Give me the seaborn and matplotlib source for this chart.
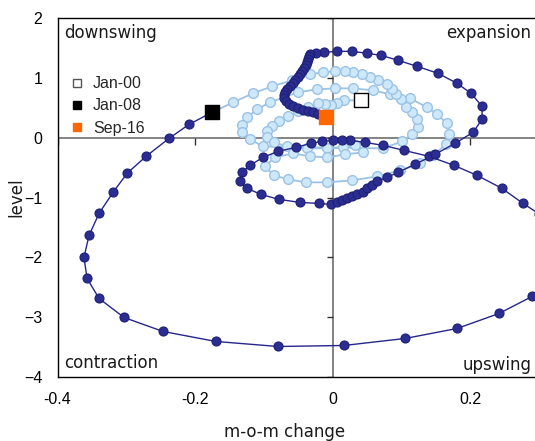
import matplotlib
matplotlib.use('Agg')
import matplotlib.pyplot as plt
from matplotlib.lines import Line2D
import pandas as pd
import seaborn as sns

# Jan-00 .. Jan-08 (light blue path)
light_x = [0.0415, 0.0167, 0.0065, -0.0022, -0.0109, -0.0211, -0.0356, -0.0502, -0.0647, -0.0778,
           -0.088, -0.0953, -0.0953, -0.0851, -0.0662, -0.0371, -0.008, 0.0153, 0.0327, 0.0444,
           0.0182, -0.008, -0.0327, -0.0575, -0.0836, -0.0982, -0.0851, -0.0647, -0.0385, -0.008,
           0.0284, 0.0647, 0.0982, 0.1273, 0.1462, 0.1651, 0.1695, 0.1665, 0.152, 0.1375,
           0.1127, 0.0836, 0.0589, 0.0298, 0.0036, -0.0225, -0.0502, -0.0909, -0.1098, -0.1244,
           -0.1316, -0.1316, -0.12, -0.1011, 0.0735, 0.1011, 0.1156, 0.1244, 0.1229, 0.1156,
           0.1069, 0.0996, 0.0924, 0.0865, 0.0793, 0.0662, 0.0545, 0.0429, 0.0298, 0.0182,
           0.0036, -0.0138, -0.0327, -0.0589, -0.088, -0.1156, -0.1447, -0.1753]
light_y = [0.624, 0.624, 0.574, 0.540, 0.557, 0.574, 0.507, 0.440, 0.356, 0.273,
           0.189, 0.105, 0.005, -0.079, -0.146, -0.179, -0.179, -0.162, -0.129, -0.246,
           -0.279, -0.329, -0.313, -0.263, -0.329, -0.480, -0.630, -0.697, -0.747, -0.747,
           -0.714, -0.647, -0.547, -0.430, -0.296, -0.112, 0.055, 0.239, 0.390, 0.507,
           0.657, 0.724, 0.791, 0.824, 0.824, 0.808, 0.758, 0.590, 0.473, 0.339,
           0.206, 0.089, -0.028, -0.146, -0.179, -0.062, 0.055, 0.172, 0.306, 0.423,
           0.507, 0.640, 0.724, 0.808, 0.891, 0.958, 1.008, 1.059, 1.092, 1.109,
           1.109, 1.092, 1.059, 0.958, 0.858, 0.741, 0.590, 0.423]

# Jan-08 .. Sep-16 (dark blue path)
dark_x = [-0.1753, -0.2087, -0.2378, -0.2713, -0.2989, -0.3193, -0.3396, -0.3542, -0.3615, -0.357,
          -0.3396, -0.3033, -0.2465, -0.1695, -0.0793, 0.0167, 0.1055, 0.1811, 0.2422, 0.2902,
          0.312, 0.322, 0.318, 0.300, 0.2771, 0.2465, 0.2102, 0.1767, 0.1404, 0.104,
          0.0735, 0.0473, 0.0255, 0.0138, 0.0007, -0.0153, -0.0313, -0.0531, -0.0793, -0.1011,
          -0.12, -0.1316, -0.1345, -0.1244, -0.104, -0.0778, -0.0473, -0.0196, -0.0022, 0.0065,
          0.0138, 0.0211, 0.0284, 0.0356, 0.0444, 0.0502, 0.0575, 0.0647, 0.0793, 0.0953,
          0.12, 0.1491, 0.1782, 0.2044, 0.2175, 0.2175, 0.2015, 0.1811, 0.1535, 0.1229,
          0.0953, 0.0705, 0.0502, 0.0284, 0.0065, -0.0124, -0.024, -0.0327, -0.0342, -0.0356,
          -0.0371, -0.0385, -0.0415, -0.0444, -0.0473, -0.0502, -0.0545, -0.0575, -0.0618, -0.0662,
          -0.0691, -0.0705, -0.0705, -0.0676, -0.0633, -0.0575, -0.0502, -0.0429, -0.0356, -0.0284,
          -0.0211, -0.0153, -0.0095]
dark_y = [0.423, 0.222, -0.012, -0.313, -0.597, -0.915, -1.266, -1.634, -2.002, -2.353,
          -2.687, -3.005, -3.239, -3.406, -3.490, -3.473, -3.356, -3.189, -2.938, -2.654,
          -2.35, -1.95, -1.55, -1.27, -1.099, -0.848, -0.630, -0.463, -0.313, -0.212,
          -0.129, -0.079, -0.045, -0.045, -0.045, -0.062, -0.095, -0.162, -0.229, -0.329,
          -0.463, -0.580, -0.731, -0.848, -0.948, -1.032, -1.082, -1.099, -1.115, -1.082,
          -1.048, -1.015, -0.982, -0.948, -0.915, -0.848, -0.798, -0.731, -0.664, -0.580,
          -0.446, -0.279, -0.095, 0.089, 0.306, 0.523, 0.741, 0.908, 1.075, 1.192,
          1.293, 1.376, 1.410, 1.443, 1.443, 1.426, 1.410, 1.393, 1.360, 1.309,
          1.259, 1.209, 1.159, 1.109, 1.059, 1.008, 0.958, 0.908, 0.858, 0.808,
          0.758, 0.707, 0.657, 0.607, 0.557, 0.523, 0.490, 0.457, 0.440, 0.423,
          0.390, 0.373, 0.339]

end_labels = ['Jan-00', 'Jan-08', 'Sep-16']
end_face = ['white', 'black', '#FF6600']
end_edge = ['black', 'black', '#FF6600']
xticks = [-0.4, -0.2, 0, 0.2]
xticklabels = ['-0.4', '-0.2', '0', '0.2']
yticks = [2, 1, 0, -1, -2, -3, -4]

sns.set_theme(style='white')
plt.rcParams['font.family'] = ['Liberation Sans', 'DejaVu Sans']

fig = plt.figure(figsize=(5.35, 4.41), dpi=100)
ax = fig.add_axes([0.1075, 0.1451, 0.8925, 0.8141])

light = pd.DataFrame({'x': light_x, 'y': light_y})
dark = pd.DataFrame({'x': dark_x, 'y': dark_y})

# axes crossing at zero, with the tick marks sitting on them
ax.axhline(0, color='#7a7a7a', lw=1.3, zorder=1)
ax.axvline(0, color='#7a7a7a', lw=1.3, zorder=1)
ax.plot(xticks, [0] * len(xticks), ls='none', marker=3, ms=5, mew=1, color='#333333', zorder=1)
ax.plot([0] * len(yticks), yticks, ls='none', marker=0, ms=4, mew=1, color='#333333', zorder=1)

sns.lineplot(data=light, x='x', y='y', sort=False, estimator=None, ax=ax,
             color='#9CC2E5', lw=1.3, marker='o', markersize=7,
             markerfacecolor='#CCE8FA', markeredgecolor='#9CC2E5', markeredgewidth=1, zorder=3)
sns.lineplot(data=dark, x='x', y='y', sort=False, estimator=None, ax=ax,
             color='#26268C', lw=1.0, marker='o', markersize=6.5,
             markerfacecolor='#2B2D90', markeredgecolor='#1E2078', markeredgewidth=0.8, zorder=4)

ends_x = [light_x[0], dark_x[0], dark_x[-1]]
ends_y = [light_y[0], dark_y[0], dark_y[-1]]
for i in range(3):
    sns.scatterplot(x=[ends_x[i]], y=[ends_y[i]], marker='s', s=95, color=end_face[i],
                    edgecolor=end_edge[i], linewidth=1, ax=ax, zorder=6)

ax.set_xlim(-0.4, 0.2945)
ax.set_ylim(-4, 2)
ax.set_xticks(xticks)
ax.set_xticklabels(xticklabels)
ax.set_yticks(yticks)
ax.tick_params(length=0, pad=11, labelsize=11.5, colors='black')
ax.set_xlabel('')
ax.set_ylabel('')
for side in ['left', 'top', 'bottom']:
    ax.spines[side].set_color('black')
    ax.spines[side].set_linewidth(1.0)
ax.spines['right'].set_visible(False)

qfont = dict(fontsize=12, family='DejaVu Sans', color='#1a1a1a', transform=ax.transAxes)
ax.text(0.0136, 0.958, 'downswing', ha='left', va='center', **qfont)
ax.text(0.9916, 0.958, 'expansion', ha='right', va='center', **qfont)
ax.text(0.0136, 0.039, 'contraction', ha='left', va='center', **qfont)
ax.text(0.9937, 0.033, 'upswing', ha='right', va='center', **qfont)

fig.text(285 / 535, 1 - 432 / 441, 'm-o-m change', ha='center', va='center',
         fontsize=12, family='DejaVu Sans', color='#1a1a1a')
fig.text(16 / 535, 1 - 197 / 441, 'level', ha='center', va='center', rotation=90,
         fontsize=12, family='DejaVu Sans', color='#1a1a1a')

handles = [Line2D([], [], ls='none', marker='s', ms=6, markerfacecolor=end_face[i],
                  markeredgecolor='#555555' if i == 0 else end_edge[i], mew=1)
           for i in range(3)]
ax.legend(handles, end_labels, loc='upper left', bbox_to_anchor=(0.024, 0.838),
          frameon=False, fontsize=11.5, handlelength=1.0, handletextpad=0.5,
          borderpad=0, borderaxespad=0, labelspacing=0.45)

fig.savefig('out.png', dpi=100)
